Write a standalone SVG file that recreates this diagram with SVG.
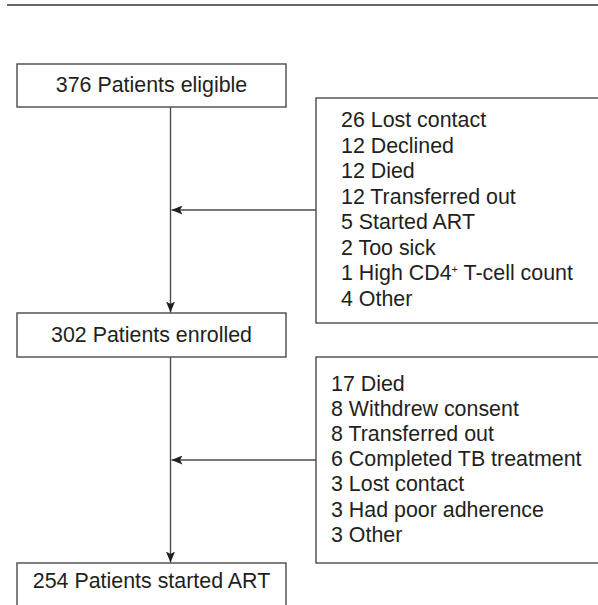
<svg xmlns="http://www.w3.org/2000/svg" width="598" height="605" viewBox="0 0 598 605">
<style>
.bx{fill:#fff;stroke:#4a4a4a;stroke-width:1.4}
.ln{fill:none;stroke:#4a4a4a;stroke-width:1.4}
.t{font-family:"Liberation Sans",Arial,Helvetica,sans-serif;font-size:21.4px;fill:#231f20}
.c{text-anchor:middle}
</style>
<defs>
<marker id="ah" viewBox="0 0 11 9" refX="11" refY="4.5" markerWidth="11" markerHeight="9" markerUnits="userSpaceOnUse" orient="auto">
<path d="M0,0 L11,4.5 L0,9 L2.5,4.5 Z" fill="#231f20"/>
</marker>
</defs>
<rect width="598" height="605" fill="#fff"/>
<line x1="7" y1="5" x2="598" y2="5" stroke="#333" stroke-width="1.4"/>
<g id="connectors">
<line class="ln" x1="170.5" y1="107" x2="170.5" y2="312.5" marker-end="url(#ah)"/>
<line class="ln" x1="170.5" y1="357" x2="170.5" y2="562.5" marker-end="url(#ah)"/>
<line class="ln" x1="316" y1="210" x2="171.5" y2="210" marker-end="url(#ah)"/>
<line class="ln" x1="316" y1="460" x2="171.5" y2="460" marker-end="url(#ah)"/>
</g>
<g id="eligible">
<rect class="bx" x="17" y="64" width="269" height="43"/>
<text class="t c" x="151.5" y="92.3">376 Patients eligible</text>
</g>
<g id="excluded1">
<rect class="bx" x="316" y="98" width="300" height="225"/>
<text class="t" x="341"><tspan x="341" y="127">26 Lost contact</tspan><tspan x="341" y="152.5">12 Declined</tspan><tspan x="341" y="178">12 Died</tspan><tspan x="341" y="203.5">12 Transferred out</tspan><tspan x="341" y="229">5 Started ART</tspan><tspan x="341" y="254.5">2 Too sick</tspan><tspan x="341" y="280">1 High CD4<tspan font-size="11" dy="-7">+</tspan><tspan dy="7"> T-cell count</tspan></tspan><tspan x="341" y="305.5">4 Other</tspan></text>
</g>
<g id="enrolled">
<rect class="bx" x="17" y="313" width="269" height="44"/>
<text class="t c" x="151.5" y="341.7">302 Patients enrolled</text>
</g>
<g id="excluded2">
<rect class="bx" x="316" y="357" width="300" height="206"/>
<text class="t"><tspan x="331" y="390.5">17 Died</tspan><tspan x="331" y="415.7">8 Withdrew consent</tspan><tspan x="331" y="440.9">8 Transferred out</tspan><tspan x="331" y="466.1">6 Completed TB treatment</tspan><tspan x="331" y="491.3">3 Lost contact</tspan><tspan x="331" y="516.5">3 Had poor adherence</tspan><tspan x="331" y="541.7">3 Other</tspan></text>
</g>
<g id="started">
<rect class="bx" x="17" y="563" width="269" height="60"/>
<text class="t c" x="151.5" y="588.3">254 Patients started ART</text>
</g>
</svg>
